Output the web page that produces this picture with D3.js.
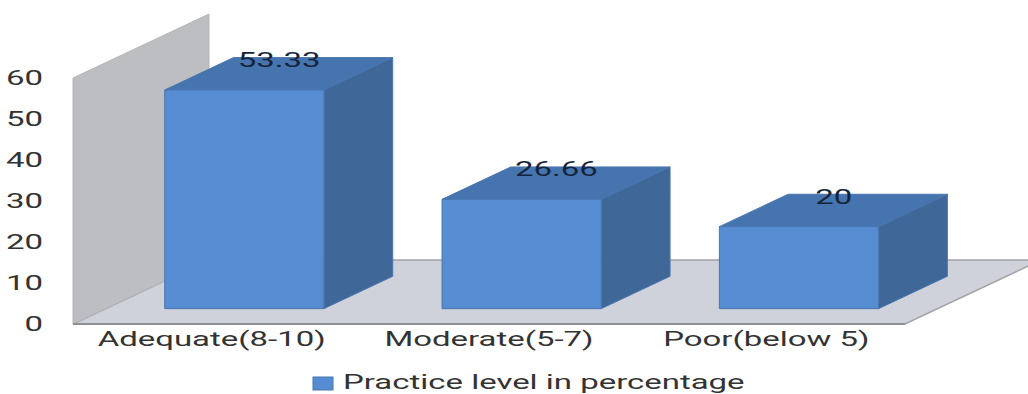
<!DOCTYPE html>
<html>
<head>
<meta charset="utf-8">
<script src="https://cdn.jsdelivr.net/npm/d3@7/dist/d3.min.js"></script>
<style>
html,body{margin:0;padding:0;background:#fff}
svg{display:block}
text{font-family:Roboto,"Liberation Sans",sans-serif}
</style>
</head>
<body>
<svg id="chart" width="1028" height="394"></svg>
<script>
const categories = ["Adequate(8-10)", "Moderate(5-7)", "Poor(below 5)"];
const practiceLevel = [53.33, 26.66, 20];
const valueLabels = ["53.33", "26.66", "20"];
const yTicks = [0, 10, 20, 30, 40, 50, 60];
const seriesName = "Practice level in percentage";

const width = 1028, height = 394;
const left = 73, right = 905, floorY = 324, wallTop = 78;
// Oblique projection: a unit of depth moves a point right and up.
const depthX = 136, depthY = -64;
const barStart = 0.24, barDepth = 0.506;
// Lettering is wide: every label is stretched horizontally by this factor.
const stretch = 1.6, fontSize = 20.6;

const svg = d3.select("#chart");
const x = d3.scaleBand().domain(categories).range([left, right]).paddingInner(0.426).paddingOuter(0.213);
const y = d3.scaleLinear().domain([0, 60]).range([floorY, wallTop]);
const project = (px, py, d) => [px + depthX * d, py + depthY * d];
const poly = pts => "M" + pts.map(p => p.join(",")).join("L") + "Z";

// Floor and side wall
svg.append("path")
  .attr("d", poly([project(left, floorY, 0), project(left, floorY, 1), project(right, floorY, 1), project(right, floorY, 0)]))
  .attr("fill", "#cfd2db").attr("stroke", "#a3a4a8").attr("stroke-width", 1.5);
svg.append("path")
  .attr("d", poly([project(left, floorY, 0), project(left, wallTop, 0), project(left, wallTop, 1), project(left, floorY, 1)]))
  .attr("fill", "#bdbec2").attr("stroke", "#b4b5b9").attr("stroke-width", 1);
svg.append("line")
  .attr("x1", left).attr("x2", right).attr("y1", floorY).attr("y2", floorY)
  .attr("stroke", "#8f9094").attr("stroke-width", 2);

// Bars as three visible faces
const bars = svg.selectAll("g.bar").data(categories.map((c, i) => ({c, v: practiceLevel[i], label: valueLabels[i]})))
  .join("g").attr("class", "bar");
const edge = "#4a76ad";
bars.each(function(d) {
  const g = d3.select(this);
  const x0 = x(d.c), x1 = x0 + x.bandwidth();
  const h = floorY - y(d.v);
  const A = barStart, B = barStart + barDepth;
  const yb = floorY, yt = floorY - h;
  g.append("path").attr("fill", "#4674ae").attr("stroke", edge)
    .attr("d", poly([project(x0, yt, A), project(x0, yt, B), project(x1, yt, B), project(x1, yt, A)]));
  g.append("path").attr("fill", "#3f6899").attr("stroke", edge)
    .attr("d", poly([project(x1, yt, A), project(x1, yt, B), project(x1, yb, B), project(x1, yb, A)]));
  g.append("path").attr("fill", "#558cd2").attr("stroke", edge)
    .attr("d", poly([project(x0, yt, A), project(x1, yt, A), project(x1, yb, A), project(x0, yb, A)]));
  const top = project((x0 + x1) / 2, yt, B);
  g.append("text")
    .attr("transform", `translate(${top[0] - 34},${top[1] + 9.5}) scale(${stretch},1)`)
    .attr("text-anchor", "middle").attr("font-size", fontSize).attr("fill", "#15243a")
    .text(d.label);
});

// Value axis labels
svg.selectAll("text.ytick").data(yTicks).join("text")
  .attr("class", "ytick")
  .attr("transform", d => `translate(43,${y(d) + 7}) scale(${stretch},1)`)
  .attr("text-anchor", "end").attr("font-size", fontSize).attr("fill", "#333")
  .text(d => d);

// Category labels
svg.selectAll("text.xtick").data(categories).join("text")
  .attr("class", "xtick")
  .attr("transform", d => `translate(${x(d) + x.bandwidth() / 2},346) scale(${stretch},1)`)
  .attr("text-anchor", "middle").attr("font-size", fontSize).attr("fill", "#333")
  .text(d => d);

// Legend
svg.append("rect").attr("x", 313).attr("y", 377).attr("width", 20).attr("height", 13)
  .attr("fill", "#558cd2").attr("stroke", edge);
svg.append("text")
  .attr("transform", `translate(343,389) scale(${stretch},1)`)
  .attr("font-size", fontSize).attr("fill", "#333")
  .text(seriesName);
</script>
</body>
</html>
